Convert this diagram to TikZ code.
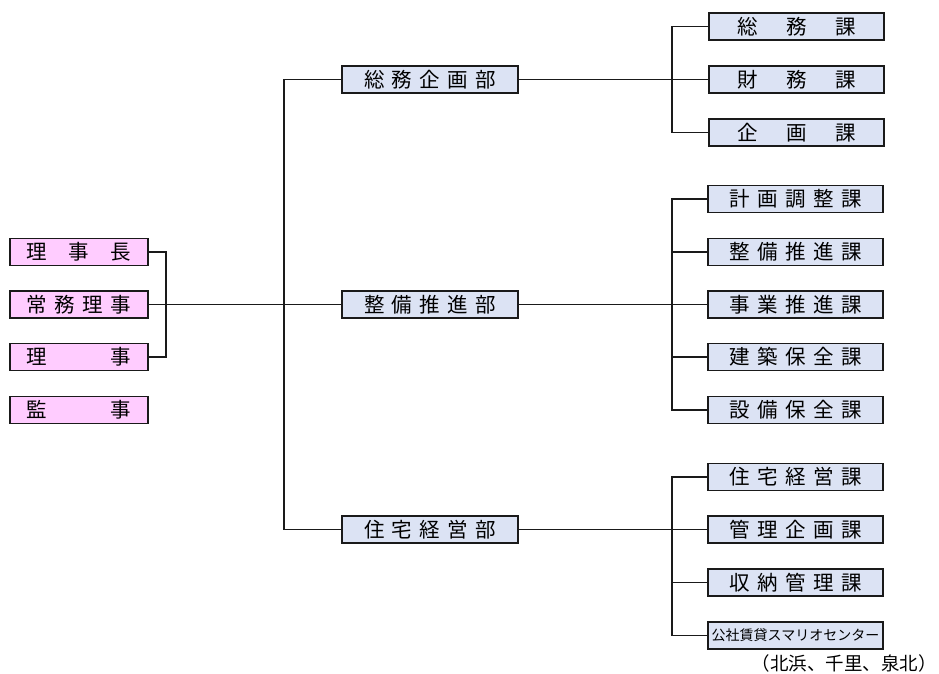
\documentclass[tikz,border=0pt]{standalone}
\usepackage{fontspec}
\setmainfont{Noto Sans CJK JP}
\definecolor{pinkfill}{HTML}{FFCCFF}
\definecolor{bluefill}{HTML}{DCE3F4}
\definecolor{edge}{HTML}{1A1A1A}
\newcommand{\spr}[2]{\makebox[#1pt][s]{#2}}
\begin{document}
\begin{tikzpicture}[x=1pt,y=-1pt,
  box/.style={draw=edge,line width=1.7pt,minimum height=27pt,inner sep=0pt,font=\fontsize{20.5}{20.5}\selectfont},
  exec/.style={box,fill=pinkfill,minimum width=138pt},
  dept/.style={box,fill=bluefill,minimum width=176pt},
  sect/.style={box,fill=bluefill,minimum width=175pt},
  wire/.style={line width=1.7pt,draw=edge}]
\useasboundingbox (0,0) rectangle (939,673);
% executives
\node[exec] (chou) at (79,252) {\spr{104}{理\hfill 事\hfill 長}};
\node[exec] (joumu) at (79,304.5) {\spr{104}{常\hfill 務\hfill 理\hfill 事}};
\node[exec] (riji) at (79,357) {\spr{104}{理\hfill 事}};
\node[exec] (kanji) at (79,410) {\spr{104}{監\hfill 事}};
% departments
\node[dept] (bu1) at (430,79.5) {\spr{132}{総\hfill 務\hfill 企\hfill 画\hfill 部}};
\node[dept] (bu2) at (430,304.5) {\spr{132}{整\hfill 備\hfill 推\hfill 進\hfill 部}};
\node[dept] (bu3) at (430,529.5) {\spr{132}{住\hfill 宅\hfill 経\hfill 営\hfill 部}};
% sections
\node[sect] (k11) at (796.5,26.5) {\spr{119}{総\hfill 務\hfill 課}};
\node[sect] (k12) at (796.5,79.5) {\spr{119}{財\hfill 務\hfill 課}};
\node[sect] (k13) at (796.5,132.5) {\spr{119}{企\hfill 画\hfill 課}};
\node[sect] (k21) at (795.5,199) {\spr{132}{計\hfill 画\hfill 調\hfill 整\hfill 課}};
\node[sect] (k22) at (795.5,252) {\spr{132}{整\hfill 備\hfill 推\hfill 進\hfill 課}};
\node[sect] (k23) at (795.5,304.5) {\spr{132}{事\hfill 業\hfill 推\hfill 進\hfill 課}};
\node[sect] (k24) at (795.5,357) {\spr{132}{建\hfill 築\hfill 保\hfill 全\hfill 課}};
\node[sect] (k25) at (795.5,410) {\spr{132}{設\hfill 備\hfill 保\hfill 全\hfill 課}};
\node[sect] (k31) at (795.5,477) {\spr{132}{住\hfill 宅\hfill 経\hfill 営\hfill 課}};
\node[sect] (k32) at (795.5,529.5) {\spr{132}{管\hfill 理\hfill 企\hfill 画\hfill 課}};
\node[sect] (k33) at (795.5,582.5) {\spr{132}{収\hfill 納\hfill 管\hfill 理\hfill 課}};
\node[sect,font=\fontsize{14}{14}\selectfont] (k34) at (795.5,635.5) {公社賃貸スマリオセンター};
\node[anchor=east,inner sep=0pt,font=\fontsize{18.5}{18.5}\selectfont] (note) at (937,663) {（北浜、千里、泉北）};
% junction coordinates
\coordinate (brk) at (166,304.5);
\coordinate (trunk) at (284,304.5);
\coordinate (r1) at (672,79.5);
\coordinate (r2) at (672,304.5);
\coordinate (r3) at (672,529.5);
% connectors
\draw[wire] (chou.east) -| (brk) |- (riji.east);
\draw[wire] (joumu.east) -- (bu2.west);
\draw[wire] (bu1.west) -| (trunk) |- (bu3.west);
\draw[wire] (bu1.east) -- (k12.west);
\draw[wire] (k11.west) -| (r1) |- (k13.west);
\draw[wire] (bu2.east) -- (k23.west);
\draw[wire] (k21.west) -| (r2) |- (k25.west);
\draw[wire] (r2) |- (k22.west);
\draw[wire] (r2) |- (k24.west);
\draw[wire] (bu3.east) -- (k32.west);
\draw[wire] (k31.west) -| (r3) |- (k34.west);
\draw[wire] (r3) |- (k33.west);
\end{tikzpicture}
\end{document}
